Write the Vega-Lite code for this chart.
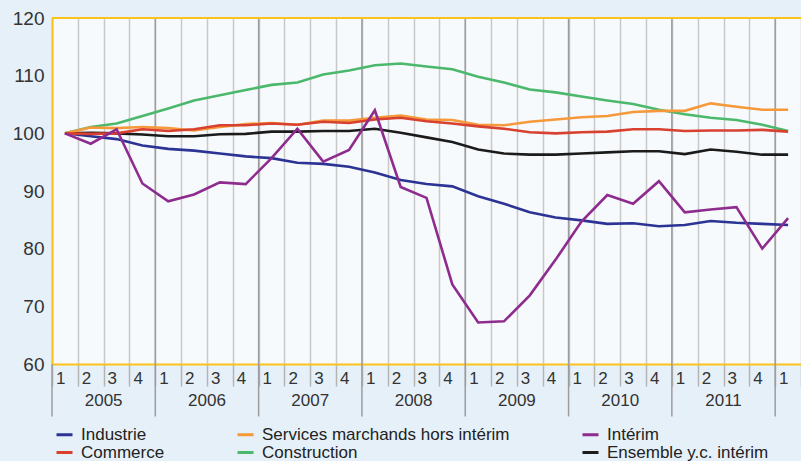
{
  "$schema": "https://vega.github.io/schema/vega-lite/v6.json",
  "width": 749,
  "height": 346,
  "autosize": {"type": "none"},
  "padding": {"left": 52, "top": 18, "right": 0, "bottom": 97},
  "background": "#e6f0f9",
  "datasets": {
    "bounds": [
      {"q": "2005-1"}, {"q": "2006-1"}, {"q": "2007-1"}, {"q": "2008-1"},
      {"q": "2009-1"}, {"q": "2010-1"}, {"q": "2011-1"}, {"q": "2012-1"}
    ],
    "years": [
      {"year": "2005", "q": "2005-2"}, {"year": "2006", "q": "2006-2"},
      {"year": "2007", "q": "2007-2"}, {"year": "2008", "q": "2008-2"},
      {"year": "2009", "q": "2009-2"}, {"year": "2010", "q": "2010-2"},
      {"year": "2011", "q": "2011-2"}
    ],
    "series": [
      {"q":"2005-1","s":"Ensemble y.c. intérim","v":100},{"q":"2005-2","s":"Ensemble y.c. intérim","v":100.1},{"q":"2005-3","s":"Ensemble y.c. intérim","v":100.0},{"q":"2005-4","s":"Ensemble y.c. intérim","v":99.8},
      {"q":"2006-1","s":"Ensemble y.c. intérim","v":99.5},{"q":"2006-2","s":"Ensemble y.c. intérim","v":99.5},{"q":"2006-3","s":"Ensemble y.c. intérim","v":99.85},{"q":"2006-4","s":"Ensemble y.c. intérim","v":99.9},
      {"q":"2007-1","s":"Ensemble y.c. intérim","v":100.3},{"q":"2007-2","s":"Ensemble y.c. intérim","v":100.3},{"q":"2007-3","s":"Ensemble y.c. intérim","v":100.4},{"q":"2007-4","s":"Ensemble y.c. intérim","v":100.4},
      {"q":"2008-1","s":"Ensemble y.c. intérim","v":100.8},{"q":"2008-2","s":"Ensemble y.c. intérim","v":100.1},{"q":"2008-3","s":"Ensemble y.c. intérim","v":99.3},{"q":"2008-4","s":"Ensemble y.c. intérim","v":98.5},
      {"q":"2009-1","s":"Ensemble y.c. intérim","v":97.2},{"q":"2009-2","s":"Ensemble y.c. intérim","v":96.5},{"q":"2009-3","s":"Ensemble y.c. intérim","v":96.3},{"q":"2009-4","s":"Ensemble y.c. intérim","v":96.3},
      {"q":"2010-1","s":"Ensemble y.c. intérim","v":96.5},{"q":"2010-2","s":"Ensemble y.c. intérim","v":96.7},{"q":"2010-3","s":"Ensemble y.c. intérim","v":96.9},{"q":"2010-4","s":"Ensemble y.c. intérim","v":96.9},
      {"q":"2011-1","s":"Ensemble y.c. intérim","v":96.4},{"q":"2011-2","s":"Ensemble y.c. intérim","v":97.2},{"q":"2011-3","s":"Ensemble y.c. intérim","v":96.8},{"q":"2011-4","s":"Ensemble y.c. intérim","v":96.3},
      {"q":"2012-1","s":"Ensemble y.c. intérim","v":96.3},
      {"q":"2005-1","s":"Industrie","v":100},{"q":"2005-2","s":"Industrie","v":99.5},{"q":"2005-3","s":"Industrie","v":99.0},{"q":"2005-4","s":"Industrie","v":97.9},
      {"q":"2006-1","s":"Industrie","v":97.3},{"q":"2006-2","s":"Industrie","v":97.0},{"q":"2006-3","s":"Industrie","v":96.5},{"q":"2006-4","s":"Industrie","v":96.0},
      {"q":"2007-1","s":"Industrie","v":95.7},{"q":"2007-2","s":"Industrie","v":94.9},{"q":"2007-3","s":"Industrie","v":94.7},{"q":"2007-4","s":"Industrie","v":94.2},
      {"q":"2008-1","s":"Industrie","v":93.2},{"q":"2008-2","s":"Industrie","v":91.9},{"q":"2008-3","s":"Industrie","v":91.2},{"q":"2008-4","s":"Industrie","v":90.8},
      {"q":"2009-1","s":"Industrie","v":89.1},{"q":"2009-2","s":"Industrie","v":87.8},{"q":"2009-3","s":"Industrie","v":86.3},{"q":"2009-4","s":"Industrie","v":85.4},
      {"q":"2010-1","s":"Industrie","v":84.9},{"q":"2010-2","s":"Industrie","v":84.3},{"q":"2010-3","s":"Industrie","v":84.4},{"q":"2010-4","s":"Industrie","v":83.9},
      {"q":"2011-1","s":"Industrie","v":84.1},{"q":"2011-2","s":"Industrie","v":84.8},{"q":"2011-3","s":"Industrie","v":84.5},{"q":"2011-4","s":"Industrie","v":84.3},
      {"q":"2012-1","s":"Industrie","v":84.1},
      {"q":"2005-1","s":"Construction","v":100},{"q":"2005-2","s":"Construction","v":101.1},{"q":"2005-3","s":"Construction","v":101.7},{"q":"2005-4","s":"Construction","v":103.0},
      {"q":"2006-1","s":"Construction","v":104.3},{"q":"2006-2","s":"Construction","v":105.7},{"q":"2006-3","s":"Construction","v":106.6},{"q":"2006-4","s":"Construction","v":107.5},
      {"q":"2007-1","s":"Construction","v":108.4},{"q":"2007-2","s":"Construction","v":108.8},{"q":"2007-3","s":"Construction","v":110.2},{"q":"2007-4","s":"Construction","v":110.9},
      {"q":"2008-1","s":"Construction","v":111.8},{"q":"2008-2","s":"Construction","v":112.1},{"q":"2008-3","s":"Construction","v":111.6},{"q":"2008-4","s":"Construction","v":111.1},
      {"q":"2009-1","s":"Construction","v":109.8},{"q":"2009-2","s":"Construction","v":108.8},{"q":"2009-3","s":"Construction","v":107.6},{"q":"2009-4","s":"Construction","v":107.1},
      {"q":"2010-1","s":"Construction","v":106.4},{"q":"2010-2","s":"Construction","v":105.7},{"q":"2010-3","s":"Construction","v":105.1},{"q":"2010-4","s":"Construction","v":104.1},
      {"q":"2011-1","s":"Construction","v":103.3},{"q":"2011-2","s":"Construction","v":102.7},{"q":"2011-3","s":"Construction","v":102.3},{"q":"2011-4","s":"Construction","v":101.5},
      {"q":"2012-1","s":"Construction","v":100.4},
      {"q":"2005-1","s":"Services marchands hors intérim","v":100},{"q":"2005-2","s":"Services marchands hors intérim","v":101.0},{"q":"2005-3","s":"Services marchands hors intérim","v":100.9},{"q":"2005-4","s":"Services marchands hors intérim","v":101.1},
      {"q":"2006-1","s":"Services marchands hors intérim","v":100.9},{"q":"2006-2","s":"Services marchands hors intérim","v":100.5},{"q":"2006-3","s":"Services marchands hors intérim","v":101.1},{"q":"2006-4","s":"Services marchands hors intérim","v":101.6},
      {"q":"2007-1","s":"Services marchands hors intérim","v":101.8},{"q":"2007-2","s":"Services marchands hors intérim","v":101.5},{"q":"2007-3","s":"Services marchands hors intérim","v":102.2},{"q":"2007-4","s":"Services marchands hors intérim","v":102.2},
      {"q":"2008-1","s":"Services marchands hors intérim","v":102.7},{"q":"2008-2","s":"Services marchands hors intérim","v":103.1},{"q":"2008-3","s":"Services marchands hors intérim","v":102.4},{"q":"2008-4","s":"Services marchands hors intérim","v":102.3},
      {"q":"2009-1","s":"Services marchands hors intérim","v":101.5},{"q":"2009-2","s":"Services marchands hors intérim","v":101.4},{"q":"2009-3","s":"Services marchands hors intérim","v":102.0},{"q":"2009-4","s":"Services marchands hors intérim","v":102.4},
      {"q":"2010-1","s":"Services marchands hors intérim","v":102.8},{"q":"2010-2","s":"Services marchands hors intérim","v":103.0},{"q":"2010-3","s":"Services marchands hors intérim","v":103.7},{"q":"2010-4","s":"Services marchands hors intérim","v":103.9},
      {"q":"2011-1","s":"Services marchands hors intérim","v":103.9},{"q":"2011-2","s":"Services marchands hors intérim","v":105.2},{"q":"2011-3","s":"Services marchands hors intérim","v":104.6},{"q":"2011-4","s":"Services marchands hors intérim","v":104.1},
      {"q":"2012-1","s":"Services marchands hors intérim","v":104.1},
      {"q":"2005-1","s":"Commerce","v":100},{"q":"2005-2","s":"Commerce","v":99.9},{"q":"2005-3","s":"Commerce","v":100.0},{"q":"2005-4","s":"Commerce","v":100.7},
      {"q":"2006-1","s":"Commerce","v":100.4},{"q":"2006-2","s":"Commerce","v":100.7},{"q":"2006-3","s":"Commerce","v":101.4},{"q":"2006-4","s":"Commerce","v":101.4},
      {"q":"2007-1","s":"Commerce","v":101.7},{"q":"2007-2","s":"Commerce","v":101.5},{"q":"2007-3","s":"Commerce","v":102.0},{"q":"2007-4","s":"Commerce","v":101.8},
      {"q":"2008-1","s":"Commerce","v":102.4},{"q":"2008-2","s":"Commerce","v":102.7},{"q":"2008-3","s":"Commerce","v":102.1},{"q":"2008-4","s":"Commerce","v":101.7},
      {"q":"2009-1","s":"Commerce","v":101.2},{"q":"2009-2","s":"Commerce","v":100.8},{"q":"2009-3","s":"Commerce","v":100.2},{"q":"2009-4","s":"Commerce","v":100.0},
      {"q":"2010-1","s":"Commerce","v":100.2},{"q":"2010-2","s":"Commerce","v":100.3},{"q":"2010-3","s":"Commerce","v":100.7},{"q":"2010-4","s":"Commerce","v":100.7},
      {"q":"2011-1","s":"Commerce","v":100.4},{"q":"2011-2","s":"Commerce","v":100.5},{"q":"2011-3","s":"Commerce","v":100.5},{"q":"2011-4","s":"Commerce","v":100.6},
      {"q":"2012-1","s":"Commerce","v":100.3},
      {"q":"2005-1","s":"Intérim","v":100},{"q":"2005-2","s":"Intérim","v":98.2},{"q":"2005-3","s":"Intérim","v":100.7},{"q":"2005-4","s":"Intérim","v":91.3},
      {"q":"2006-1","s":"Intérim","v":88.2},{"q":"2006-2","s":"Intérim","v":89.4},{"q":"2006-3","s":"Intérim","v":91.5},{"q":"2006-4","s":"Intérim","v":91.2},
      {"q":"2007-1","s":"Intérim","v":95.7},{"q":"2007-2","s":"Intérim","v":100.8},{"q":"2007-3","s":"Intérim","v":95.1},{"q":"2007-4","s":"Intérim","v":97.1},
      {"q":"2008-1","s":"Intérim","v":104.0},{"q":"2008-2","s":"Intérim","v":90.7},{"q":"2008-3","s":"Intérim","v":88.8},{"q":"2008-4","s":"Intérim","v":73.8},
      {"q":"2009-1","s":"Intérim","v":67.2},{"q":"2009-2","s":"Intérim","v":67.4},{"q":"2009-3","s":"Intérim","v":71.9},{"q":"2009-4","s":"Intérim","v":78.1},
      {"q":"2010-1","s":"Intérim","v":84.7},{"q":"2010-2","s":"Intérim","v":89.3},{"q":"2010-3","s":"Intérim","v":87.8},{"q":"2010-4","s":"Intérim","v":91.7},
      {"q":"2011-1","s":"Intérim","v":86.3},{"q":"2011-2","s":"Intérim","v":86.8},{"q":"2011-3","s":"Intérim","v":87.2},{"q":"2011-4","s":"Intérim","v":80.0},
      {"q":"2012-1","s":"Intérim","v":85.3}
    ]
  },
  "layer": [
    {
      "data": {"name": "bounds"},
      "transform": [{"filter": "datum.q != '2005-1'"}],
      "mark": {"type": "rule", "color": "#9c9c9c", "strokeWidth": 1.5},
      "encoding": {
        "x": {"field": "q", "type": "ordinal", "bandPosition": 0},
        "y": {"datum": 120},
        "y2": {"datum": 60}
      }
    },
    {
      "data": {"name": "bounds"},
      "mark": {"type": "rule", "color": "#9c9c9c", "strokeWidth": 1.5},
      "encoding": {
        "x": {"field": "q", "type": "ordinal", "bandPosition": 0},
        "y": {"datum": 60},
        "y2": {"datum": 50.9}
      }
    },
    {
      "data": {"name": "years"},
      "mark": {"type": "rule", "color": "#fbc31a", "strokeWidth": 2},
      "encoding": {
        "y": {"datum": 120}
      }
    },
    {
      "data": {"name": "years"},
      "mark": {"type": "text", "fontSize": 17, "color": "#333333", "baseline": "middle", "align": "center"},
      "encoding": {
        "x": {"field": "q", "type": "ordinal", "bandPosition": 1},
        "y": {"datum": 53.6},
        "text": {"field": "year"}
      }
    },
    {
      "data": {"name": "series"},
      "mark": {"type": "line", "strokeWidth": 2.6},
      "encoding": {
        "x": {
          "field": "q", "type": "ordinal", "title": null,
          "scale": {"paddingInner": 0, "paddingOuter": 0},
          "axis": {
            "labelExpr": "isString(datum.value) ? substring(datum.value, 5, 6) : ''",
            "labelAngle": 0,
            "labelFontSize": 17,
            "labelColor": "#333333",
            "tickBand": "extent",
            "tickSize": 22,
            "tickColor": "#b4b4b4",
            "tickWidth": 1.5,
            "labelPadding": -8,
            "domainColor": "#fbc31a",
            "domainWidth": 2,
            "grid": true,
            "gridColor": "#c8c8c8",
            "gridWidth": 1.5
          }
        },
        "y": {
          "field": "v", "type": "quantitative", "title": null,
          "scale": {"domain": [60, 120], "nice": false, "zero": false},
          "axis": {
            "values": [60, 70, 80, 90, 100, 110, 120],
            "labelFontSize": 19,
            "labelColor": "#333333",
            "ticks": false,
            "labelPadding": 8,
            "domainColor": "#fbc31a",
            "domainWidth": 2,
            "gridColor": "#a8a8a8",
            "gridWidth": 1.6
          }
        },
        "color": {
          "field": "s", "type": "nominal", "title": null,
          "scale": {
            "domain": ["Industrie", "Services marchands hors intérim", "Intérim", "Commerce", "Construction", "Ensemble y.c. intérim"],
            "range": ["#2b3394", "#f5993b", "#8e2b8e", "#d8402f", "#4bb86c", "#1b1b1b"]
          },
          "legend": {
            "orient": "none",
            "legendX": 3,
            "legendY": 407,
            "direction": "horizontal",
            "columns": 3,
            "gridAlign": "each",
            "columnPadding": 66,
            "rowPadding": 0,
            "symbolType": "stroke",
            "symbolSize": 256,
            "symbolStrokeWidth": 3,
            "labelFontSize": 17,
            "labelColor": "#222222",
            "labelOffset": 7,
            "labelLimit": 400
          }
        }
      }
    }
  ],
  "config": {
    "font": "Liberation Sans, Arial, sans-serif",
    "view": {"stroke": null, "fill": "#f7fafd"}
  }
}
